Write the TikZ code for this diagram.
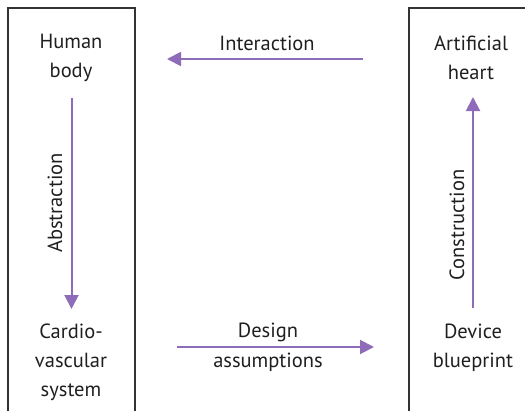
\documentclass[tikz,border=0pt]{standalone}
\usepackage{fontspec}
\setmainfont{PT Sans}
\usetikzlibrary{arrows.meta}
\definecolor{arrowpurple}{HTML}{8E6CBA}
\definecolor{boxgrey}{HTML}{333333}
\tikzset{
  lbl/.style={font=\fontsize{20.5}{29}\selectfont, align=center, text=black!88, inner sep=0pt},
  flow/.style={draw=arrowpurple, line width=2pt, -{Triangle[length=14pt,width=14pt]}},
  frame/.style={draw=boxgrey, line width=1.3pt},
}
\begin{document}
\begin{tikzpicture}[x=1pt,y=-1pt]
\useasboundingbox (0,0) rectangle (525,410);
% frames
\draw[frame] (8,412) -- (8,8) -- (135,8) -- (135,412);
\draw[frame] (530,8) -- (409,8) -- (409,412);
% labels
\node[lbl] (hb) at (71,58) {Human\\body};
\node[lbl] (cv) at (71,362) {Cardio-\\vascular\\system};
\node[lbl] (ah) at (471,58) {Artificial\\heart};
\node[lbl] (db) at (473,348) {Device\\blueprint};
% arrow end points
\coordinate (abs1) at (71.5,98);
\coordinate (abs2) at (71.5,309);
\coordinate (con1) at (473,308);
\coordinate (con2) at (473,97);
\coordinate (int1) at (363,59);
\coordinate (int2) at (167,59);
\coordinate (des1) at (177,347);
\coordinate (des2) at (374,347);
% arrows
\draw[flow] (abs1) -- (abs2);
\draw[flow] (con1) -- (con2);
\draw[flow] (int1) -- (int2);
\draw[flow] (des1) -- (des2);
% arrow labels
\node[lbl, rotate=90] (absl) at (55,203) {Abstraction};
\node[lbl, rotate=90] (conl) at (457,225) {Construction};
\node[lbl] (intl) at (267,43) {Interaction};
\node[lbl] (desl) at (268,347) {Design\\[1pt]assumptions};
\end{tikzpicture}
\end{document}
